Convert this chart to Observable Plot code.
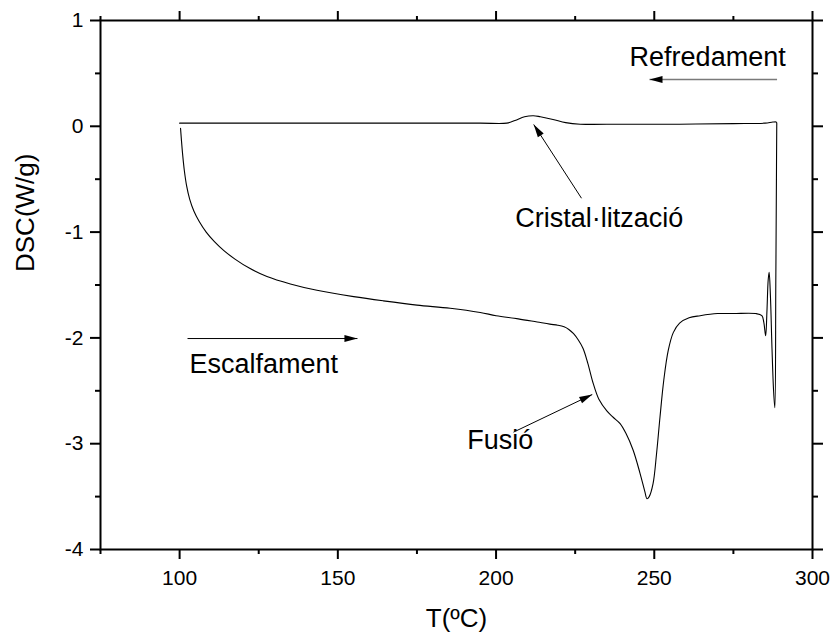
<!DOCTYPE html>
<html>
<head>
<meta charset="utf-8">
<script src="https://cdn.jsdelivr.net/npm/d3@7"></script>
<script src="https://cdn.jsdelivr.net/npm/@observablehq/plot@0.6"></script>
<style>
  body { margin: 0; background: #fff; }
  #chart { width: 833px; height: 633px; }
</style>
</head>
<body>
<div id="chart"></div>
<script>
// DSC heating scan (T in ºC, heat flow in W/g)
const heatT = [100.3, 100.6, 101.0, 101.5, 102.2, 103.2, 104.5, 106.2, 108.4, 111.0, 114.0, 117.5, 122, 127.6, 135, 143.4, 155, 164.4, 175, 185.5, 195, 200, 207, 213, 217, 219.5, 221.5, 223, 224.5, 226, 227.5, 229, 230.7, 232.5, 235, 237, 239.2, 241, 243.3, 245.5, 247, 247.7, 248.4, 249.6, 250.7, 251.8, 253, 254.4, 256, 258, 261, 264.5, 270, 275, 282, 284, 284.6, 285.2, 285.6, 286.0, 286.3, 286.7, 287.2, 287.7, 288.1, 288.4, 288.6, 288.7];
const heatDSC = [-0.02, -0.14, -0.28, -0.42, -0.56, -0.69, -0.80, -0.90, -1.00, -1.09, -1.175, -1.255, -1.34, -1.42, -1.49, -1.55, -1.61, -1.65, -1.69, -1.72, -1.76, -1.79, -1.82, -1.85, -1.87, -1.88, -1.895, -1.92, -1.96, -2.02, -2.10, -2.24, -2.43, -2.58, -2.69, -2.75, -2.81, -2.90, -3.06, -3.28, -3.45, -3.52, -3.50, -3.38, -3.10, -2.75, -2.40, -2.12, -1.95, -1.86, -1.81, -1.79, -1.77, -1.77, -1.77, -1.79, -1.85, -1.98, -1.75, -1.45, -1.38, -1.60, -2.10, -2.50, -2.66, -1.50, -0.50, 0.00];

// DSC cooling scan back down to 100 ºC
const coolT = [288.7, 288.6, 287.5, 285, 275, 258, 240, 226.6, 222, 218, 214, 211.8, 209, 206, 203.4, 195, 170, 150, 125, 100];
const coolDSC = [0.03, 0.04, 0.04, 0.03, 0.025, 0.02, 0.02, 0.02, 0.035, 0.065, 0.09, 0.10, 0.09, 0.055, 0.03, 0.03, 0.03, 0.03, 0.03, 0.03];

// Axis ticks
const xMajor = [100, 150, 200, 250, 300];
const xMinor = [75, 125, 175, 225, 275];
const yMajor = [-4, -3, -2, -1, 0, 1];
const yMinor = [-3.5, -2.5, -1.5, -0.5, 0.5];

// Annotations (text anchored at its left edge, in data units)
const noteText = ["Refredament", "Escalfament", "Cristal·lització", "Fusió"];
const noteT = [242.2, 103.1, 206.1, 190.9];
const noteDSC = [0.653, -2.246, -0.869, -2.964];

// Arrows: start point -> head
const arrowT1 = [288.8, 102.5, 227.0, 205.5];
const arrowDSC1 = [0.442, -2.006, -0.680, -2.891];
const arrowT2 = [248.5, 156.2, 211.9, 230.4];
const arrowDSC2 = [0.442, -2.006, 0.017, -2.535];

const curve = heatT.map((T, i) => ({T, v: heatDSC[i]}))
  .concat(coolT.map((T, i) => ({T, v: coolDSC[i]})));
const notes = noteText.map((s, i) => ({s, T: noteT[i], v: noteDSC[i]}));
const arrows = arrowT1.map((T1, i) => ({T1, v1: arrowDSC1[i], T2: arrowT2[i], v2: arrowDSC2[i]}));

// Filled triangular arrowhead
function filledHead() {
  return d3.create("svg:marker")
    .attr("viewBox", "-13 -4 14 8")
    .attr("markerUnits", "userSpaceOnUse")
    .attr("markerWidth", 14)
    .attr("markerHeight", 8)
    .attr("orient", "auto")
    .attr("overflow", "visible")
    .call((m) => m.append("path").attr("fill", "black").attr("stroke", "none").attr("d", "M-13,-3.5L0,0L-13,3.5Z"))
    .node();
}

function arrowMarks() {
  const base = {x1: "T1", y1: "v1", x2: "T2", y2: "v2"};
  try {
    return [
      Plot.link(arrows.slice(0, 1), {...base, stroke: "#7a7a7a", strokeWidth: 1.6, markerEnd: filledHead}),
      Plot.link(arrows.slice(1), {...base, stroke: "black", strokeWidth: 1, markerEnd: filledHead})
    ];
  } catch (e) {
    return [
      Plot.arrow(arrows.slice(0, 1), {...base, stroke: "#7a7a7a", strokeWidth: 1.6, headLength: 12}),
      Plot.arrow(arrows.slice(1), {...base, stroke: "black", strokeWidth: 1, headLength: 12})
    ];
  }
}

const blank = () => "";
const fmt = (d) => String(d);

const chart = Plot.plot({
  width: 833,
  height: 633,
  marginLeft: 100,
  marginRight: 21,
  marginTop: 20,
  marginBottom: 84,
  style: {fontFamily: "'Liberation Sans', Arial, sans-serif", background: "white", color: "black"},
  x: {domain: [75, 300]},
  y: {domain: [-4, 1]},
  marks: [
    Plot.axisX({ticks: xMajor, anchor: "bottom", tickSize: 10, tickPadding: 11, fontSize: 21, strokeWidth: 2, tickFormat: fmt, label: null}),
    Plot.axisX({ticks: xMinor, anchor: "bottom", tickSize: 5, strokeWidth: 2, tickFormat: blank, label: null}),
    Plot.axisX({ticks: xMajor, anchor: "top", tickSize: 10, strokeWidth: 2, tickFormat: blank, label: null}),
    Plot.axisX({ticks: xMinor, anchor: "top", tickSize: 5, strokeWidth: 2, tickFormat: blank, label: null}),
    Plot.axisY({ticks: yMajor, anchor: "left", tickSize: 10, tickPadding: 7, fontSize: 21, strokeWidth: 2, tickFormat: fmt, label: null}),
    Plot.axisY({ticks: yMinor, anchor: "left", tickSize: 5, strokeWidth: 2, tickFormat: blank, label: null}),
    Plot.axisY({ticks: yMajor, anchor: "right", tickSize: 10, strokeWidth: 2, tickFormat: blank, label: null}),
    Plot.axisY({ticks: yMinor, anchor: "right", tickSize: 5, strokeWidth: 2, tickFormat: blank, label: null}),
    Plot.frame({stroke: "black", strokeWidth: 2}),
    Plot.line(curve, {x: "T", y: "v", stroke: "black", strokeWidth: 1.1, curve: "catmull-rom"}),
    ...arrowMarks(),
    Plot.text(notes, {x: "T", y: "v", text: "s", textAnchor: "start", lineAnchor: "middle", fontSize: 27, fill: "black"}),
    Plot.text(["T(ºC)"], {frameAnchor: "bottom", lineAnchor: "middle", dy: 69, fontSize: 26, fill: "black"}),
    Plot.text(["DSC(W/g)"], {frameAnchor: "left", lineAnchor: "middle", rotate: -90, dx: -75, dy: -13, fontSize: 26, fill: "black"})
  ]
});

document.getElementById("chart").appendChild(chart);
</script>
</body>
</html>
